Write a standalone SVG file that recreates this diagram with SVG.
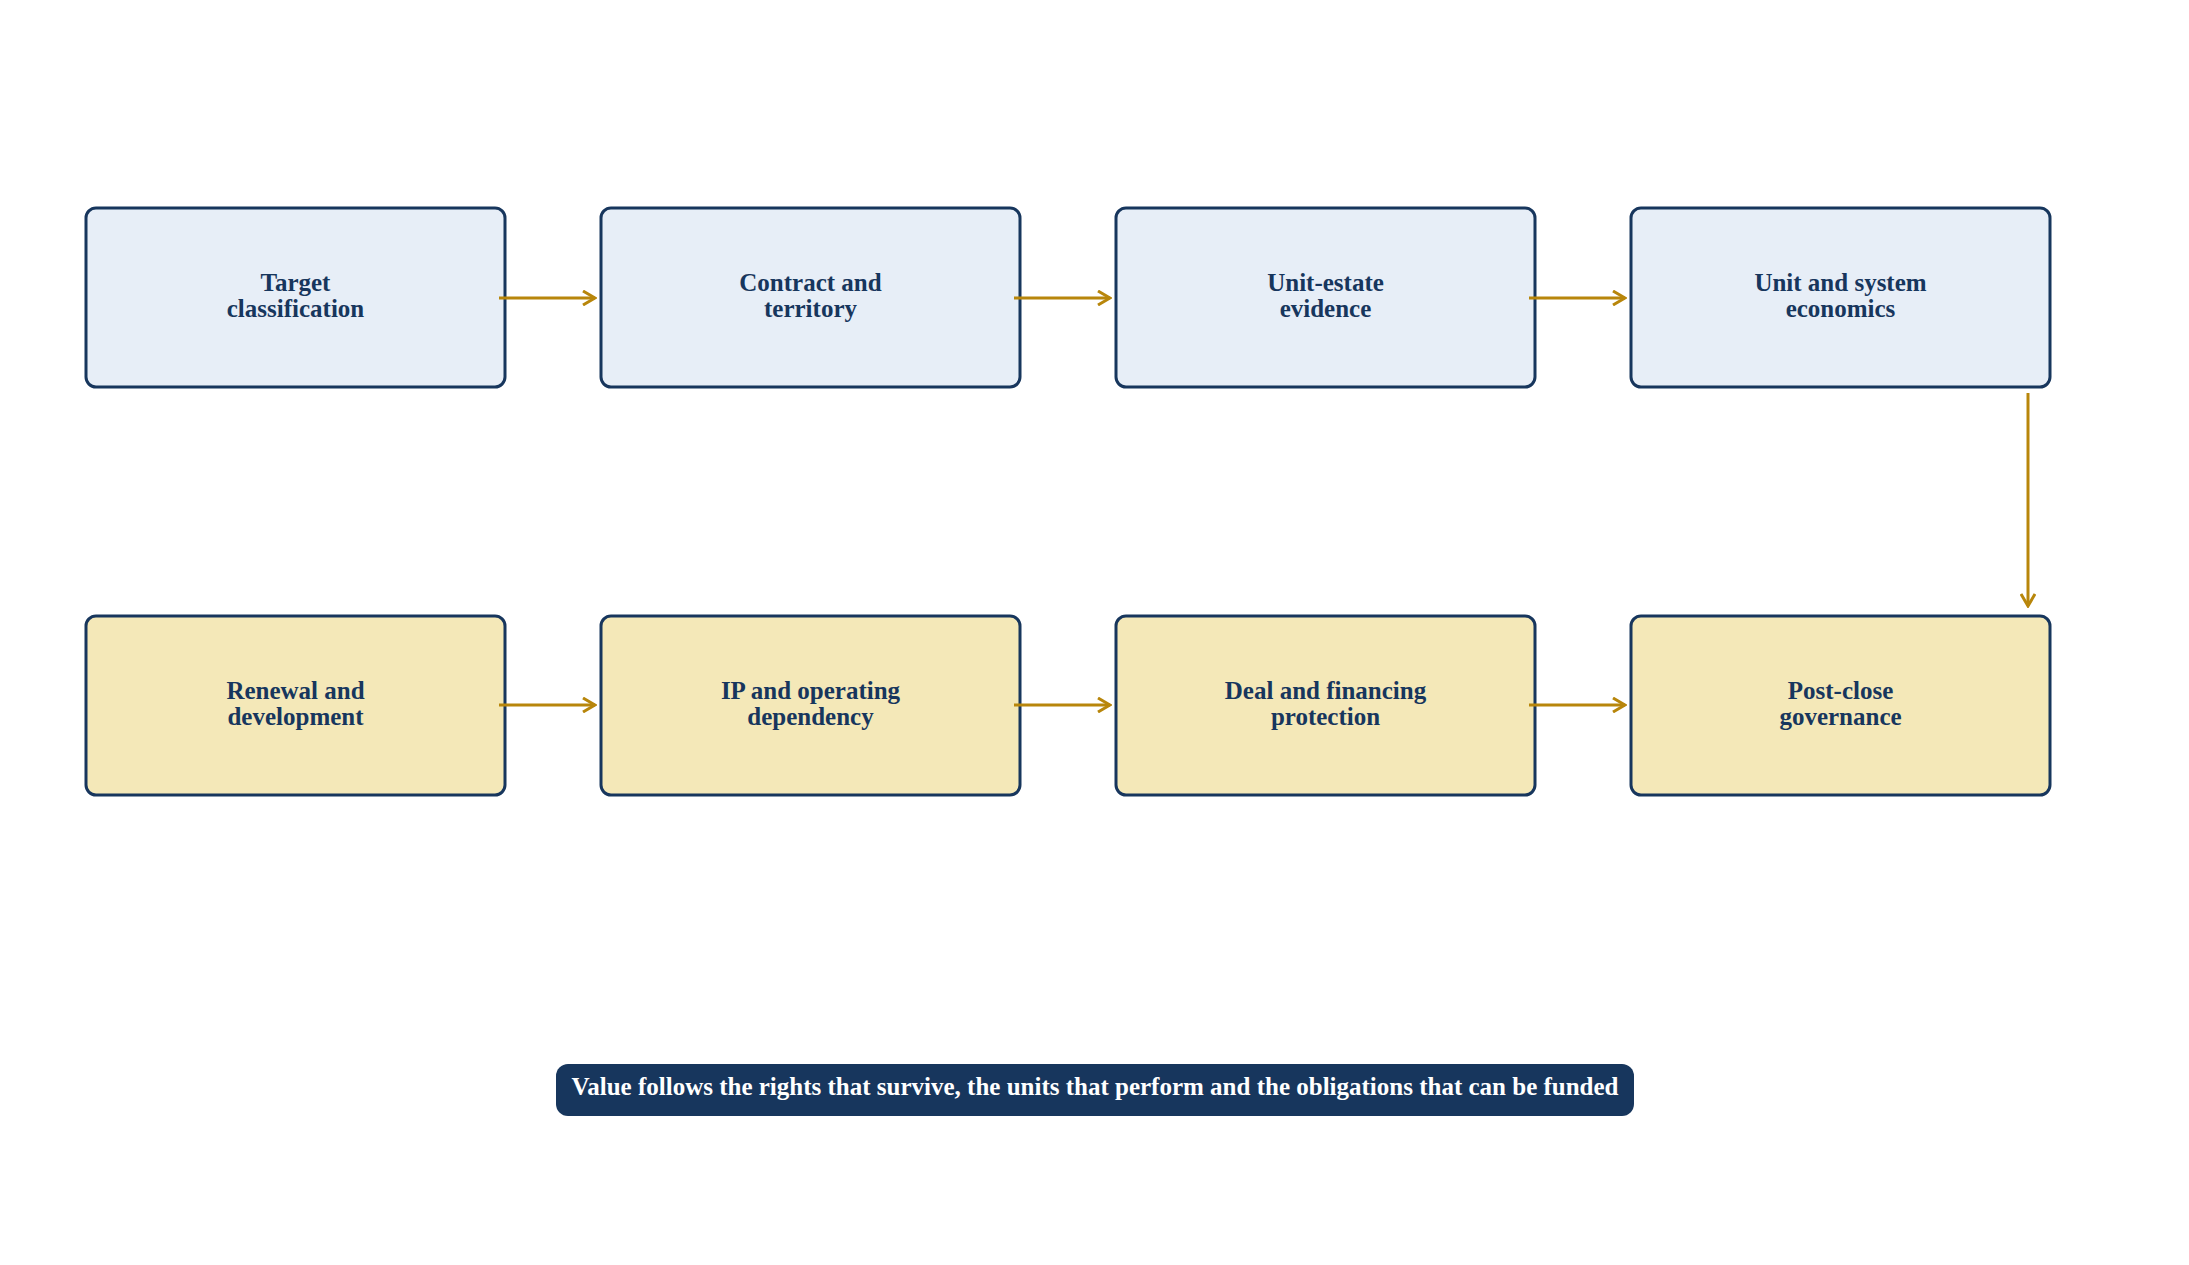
<svg xmlns="http://www.w3.org/2000/svg" width="2189" height="1265" viewBox="0 0 2189 1265">
<style>
.box{stroke:#17365D;stroke-width:3}
.b1{fill:#E7EEF7}
.b2{fill:#F4E8B8}
.lbl{font-family:"Liberation Serif","Times New Roman",serif;font-weight:bold;font-size:25px;fill:#17365D;text-anchor:middle}
.conn{stroke:#B8860B;stroke-width:3;fill:none;marker-end:url(#ah)}
.cap{font-family:"Liberation Serif","Times New Roman",serif;font-weight:bold;font-size:25px;fill:#FFFFFF;text-anchor:middle}
</style>
<defs>
<marker id="ah" viewBox="0 0 16 16" refX="14" refY="8" markerWidth="16" markerHeight="16" markerUnits="userSpaceOnUse" orient="auto">
<path d="M2,1 L14,8 L2,15" fill="none" stroke="#B8860B" stroke-width="3"/>
</marker>
</defs>
<rect width="2189" height="1265" fill="#FFFFFF"/>
<g id="n1"><rect class="box b1" x="86" y="208" width="419" height="179" rx="10"/><text class="lbl" x="295.5" y="290.5">Target</text><text class="lbl" x="295.5" y="316.5">classification</text></g>
<g id="n2"><rect class="box b1" x="601" y="208" width="419" height="179" rx="10"/><text class="lbl" x="810.5" y="290.5">Contract and</text><text class="lbl" x="810.5" y="316.5">territory</text></g>
<g id="n3"><rect class="box b1" x="1116" y="208" width="419" height="179" rx="10"/><text class="lbl" x="1325.5" y="290.5">Unit-estate</text><text class="lbl" x="1325.5" y="316.5">evidence</text></g>
<g id="n4"><rect class="box b1" x="1631" y="208" width="419" height="179" rx="10"/><text class="lbl" x="1840.5" y="290.5">Unit and system</text><text class="lbl" x="1840.5" y="316.5">economics</text></g>
<g id="n5"><rect class="box b2" x="86" y="616" width="419" height="179" rx="10"/><text class="lbl" x="295.5" y="698.5">Renewal and</text><text class="lbl" x="295.5" y="724.5">development</text></g>
<g id="n6"><rect class="box b2" x="601" y="616" width="419" height="179" rx="10"/><text class="lbl" x="810.5" y="698.5">IP and operating</text><text class="lbl" x="810.5" y="724.5">dependency</text></g>
<g id="n7"><rect class="box b2" x="1116" y="616" width="419" height="179" rx="10"/><text class="lbl" x="1325.5" y="698.5">Deal and financing</text><text class="lbl" x="1325.5" y="724.5">protection</text></g>
<g id="n8"><rect class="box b2" x="1631" y="616" width="419" height="179" rx="10"/><text class="lbl" x="1840.5" y="698.5">Post-close</text><text class="lbl" x="1840.5" y="724.5">governance</text></g>
<g id="connectors">
<line class="conn" x1="499" y1="298" x2="595" y2="298"/>
<line class="conn" x1="1014" y1="298" x2="1110" y2="298"/>
<line class="conn" x1="1529" y1="298" x2="1625" y2="298"/>
<line class="conn" x1="2028" y1="393" x2="2028" y2="606"/>
<line class="conn" x1="499" y1="705" x2="595" y2="705"/>
<line class="conn" x1="1014" y1="705" x2="1110" y2="705"/>
<line class="conn" x1="1529" y1="705" x2="1625" y2="705"/>
</g>
<g id="caption"><rect x="556" y="1064" width="1078" height="52" rx="12" fill="#17365D"/><text class="cap" x="1095" y="1095">Value follows the rights that survive, the units that perform and the obligations that can be funded</text></g>
</svg>
